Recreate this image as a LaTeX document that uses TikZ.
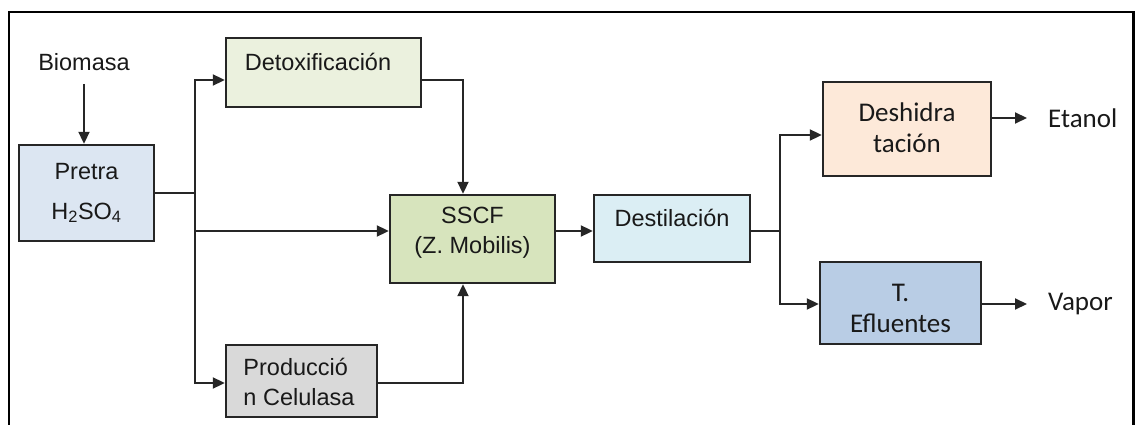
\documentclass[tikz,border=0pt]{standalone}
\usepackage{fontspec}
\setmainfont{Liberation Sans}
\newfontfamily\calib{Carlito}
\usetikzlibrary{arrows.meta}
\definecolor{cPre}{HTML}{DCE6F2}
\definecolor{cDet}{HTML}{EBF1DE}
\definecolor{cSSCF}{HTML}{D7E4BD}
\definecolor{cProd}{HTML}{D9D9D9}
\definecolor{cDest}{HTML}{DBEEF4}
\definecolor{cDesh}{HTML}{FDE9D9}
\definecolor{cTef}{HTML}{B9CDE5}
\begin{document}
\begin{tikzpicture}[x=1pt,y=-1pt,
 box/.style={draw=black!85, line width=2.4pt, inner sep=0pt},
 conn/.style={line width=2pt, draw=black!85},
 arr/.style={conn, -{Triangle[length=12pt,width=11pt]}},
 txt/.style={font=\fontsize{23.5}{30}\selectfont, inner sep=0pt, align=center, text=black!90},
 ctxt/.style={font=\calib\fontsize{27}{31}\selectfont, inner sep=0pt, align=center, text=black!90}]
\useasboundingbox (0,0) rectangle (1135,425);
\draw[line width=2.5pt] (9,425) -- (9,12) -- (1133.5,12) -- (1133.5,425);
% boxes
\node[box, fill=cPre, minimum width=135pt, minimum height=96pt] (pre) at (86.5,193) {};
\node[box, fill=cDet, minimum width=195pt, minimum height=69pt] (det) at (323.5,72.5) {};
\node[box, fill=cSSCF, minimum width=165pt, minimum height=88pt] (sscf) at (472.5,239) {};
\node[box, fill=cProd, minimum width=151pt, minimum height=72pt] (prod) at (301.5,381) {};
\node[box, fill=cDest, minimum width=156pt, minimum height=67pt] (dest) at (672,228.5) {};
\node[box, fill=cDesh, minimum width=168pt, minimum height=94pt] (desh) at (907,129) {};
\node[box, fill=cTef, minimum width=161pt, minimum height=82pt] (tef) at (900.5,303) {};
% texts
\node[txt] (bio) at (84,62) {Biomasa};
\node[txt, font=\fontsize{23.5}{40}\selectfont] (tpre) at (86.5,193) {Pretra\\H\textsubscript{2}SO\textsubscript{4}};
\node[txt] (tdet) at (318,62) {Detoxificación};
\node[txt] (tsscf) at (472.5,233) {SSCF\\(Z. Mobilis)};
\node[txt, align=left] (tprod) at (299,382) {Producció\\n Celulasa};
\node[txt] (tdest) at (672,218) {Destilación};
\node[ctxt] (tdesh) at (907,127.5) {Deshidra\\tación};
\node[ctxt] (ttef) at (900.5,308) {T.\\Efluentes};
\node[ctxt, anchor=west] (eta) at (1048,118) {Etanol};
\node[ctxt, anchor=west] (vap) at (1048,304) {Vapor};
% junctions
\coordinate (j1) at (195,193);
\coordinate (j2) at (780,231);
% connectors
\draw[arr, shorten <=13pt] (bio.south) -- (bio.south |- pre.north);
\draw[conn] (pre.east) -- (j1);
\draw[arr] (j1) |- ([yshift=-7.5pt]det.west);
\draw[arr] (j1) |- ([yshift=8pt]sscf.west);
\draw[arr] (j1) |- ([yshift=-2pt]prod.west);
\draw[arr] ([yshift=-7.5pt]det.east) -| ([xshift=-9.5pt]sscf.north);
\draw[arr] ([yshift=-2pt]prod.east) -| ([xshift=-9.5pt]sscf.south);
\draw[arr] ([yshift=8pt]sscf.east) coordinate (s1) -- (s1 -| dest.west);
\draw[conn] ([yshift=-2.5pt]dest.east) -- (j2);
\draw[arr] (j2) |- ([yshift=-6pt]desh.west);
\draw[arr] (j2) |- ([yshift=-1pt]tef.west);
\draw[arr, shorten >=21pt] ([yshift=11pt]desh.east) coordinate (e1) -- (e1 -| eta.west);
\draw[arr, shorten >=21pt] ([yshift=-1pt]tef.east) coordinate (e2) -- (e2 -| vap.west);
\end{tikzpicture}
\end{document}
